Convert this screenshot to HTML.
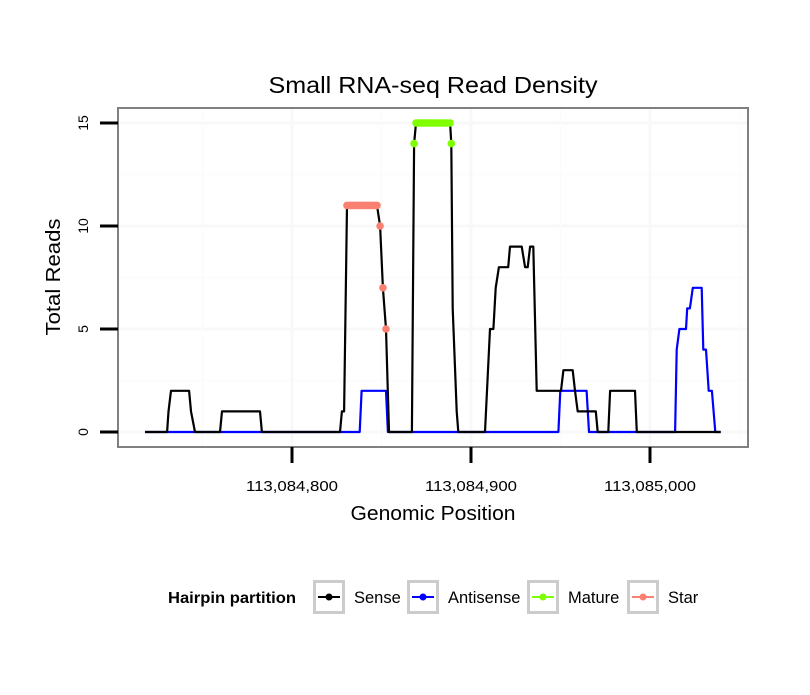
<!DOCTYPE html>
<html><head><meta charset="utf-8"><style>
body{margin:0;background:#fff}
svg text{font-family:"Liberation Sans",sans-serif}
</style></head><body>
<svg id="chart" width="810" height="690" xmlns="http://www.w3.org/2000/svg">
<rect x="0" y="0" width="810" height="690" fill="#fff"/>
<text x="433" y="93" font-size="23" text-anchor="middle" textLength="329" lengthAdjust="spacingAndGlyphs">Small RNA-seq Read Density</text>
<g id="grid"></g>
<g id="series"></g>
<rect x="118" y="108" width="630" height="339" fill="none" stroke="#808080" stroke-width="2"/>
<g id="axes"></g>
<text x="433" y="520" font-size="20" text-anchor="middle" textLength="165" lengthAdjust="spacingAndGlyphs">Genomic Position</text>
<text transform="translate(60,277) rotate(-90)" font-size="20" text-anchor="middle" textLength="117" lengthAdjust="spacingAndGlyphs">Total Reads</text>
<g>
<text x="168" y="603" font-size="15.5" font-weight="bold" textLength="128" lengthAdjust="spacingAndGlyphs">Hairpin partition</text>
<g id="legend"></g>
</g>
</svg>
<script>
const BASE = 113084000;
const senseX = [717.9,730.2,731,732.4,742.5,743.6,745.8,759.8,760.9,782.1,783.2,826.8,827.9,829.1,830.7,847.5,849.2,850.8,852.5,854.2,867,868.2,869.3,888.3,889,889.8,892,892.9,907.8,910.6,912.5,913.8,915.6,920.8,921.8,928.3,930.2,931.7,933,934.8,936.7,950.3,951.6,956.8,958.1,959.6,969.7,970.8,976.7,977.7,991.6,992.6,1039.5];
const senseY = [0,0,1,2,2,1,0,0,1,1,0,0,1,1,11,11,10,7,5,0,0,14,15,15,14,6,1,0,0,5,5,7,8,8,9,9,8,8,9,9,2,2,3,3,2,1,1,0,0,2,2,0,0];
const antiX = [717.9,837.8,838.9,852.5,853.6,948.8,949.9,964.6,965.9,1014,1014.9,1016.4,1020.1,1020.8,1022.3,1023.9,1028.9,1029.8,1031.3,1032.8,1034.6,1036.5,1039.5];
const antiY = [0,0,2,2,0,0,2,2,0,0,4,5,5,6,6,7,7,4,4,2,2,0,0];
const starX = [830.7,832,833,834,835,836,837,838,839,840,841,842,843,844,845,846,847.5,849.2,850.8,852.5];
const starY = [11,11,11,11,11,11,11,11,11,11,11,11,11,11,11,11,11,10,7,5];
const matureX = [868.2,869.3,870,871,872,873,874,875,876,877,878,879,880,881,882,883,884,885,886,887,888.3,889];
const matureY = [14,15,15,15,15,15,15,15,15,15,15,15,15,15,15,15,15,15,15,15,15,14];
const xTicks = [113084800,113084900,113085000];
const xTickLabels = ["113,084,800","113,084,900","113,085,000"];
const yTicks = [0,5,10,15];
const legendNames = ["Sense","Antisense","Mature","Star"];
const legendColors = ["#000000","#0000ff","#7fff00","#fa8072"];

const NS="http://www.w3.org/2000/svg";
function xs(v){return 292+(v-113084800)*1.79;}
function ys(v){return 432-v*20.6;}
function mk(tag,attrs,parent){const e=document.createElementNS(NS,tag);for(const k in attrs)e.setAttribute(k,attrs[k]);parent.appendChild(e);return e;}
const grid=document.getElementById('grid'),series=document.getElementById('series'),axes=document.getElementById('axes'),legend=document.getElementById('legend');
[2.5,7.5,12.5].forEach(v=>{const l=mk('line',{x1:118,x2:748,y1:ys(v),y2:ys(v),stroke:'#fbfbfb','stroke-width':1.5},grid);

});
yTicks.forEach(v=>{const l=mk('line',{x1:118,x2:748,y1:ys(v),y2:ys(v),stroke:'#f8f8f8','stroke-width':3},grid);

});
[113084750,113084850,113084950,113085050].forEach(v=>{const l=mk('line',{x1:xs(v),x2:xs(v),y1:108,y2:447,stroke:'#fbfbfb','stroke-width':1.5},grid);

});
xTicks.forEach(v=>{const l=mk('line',{x1:xs(v),x2:xs(v),y1:108,y2:447,stroke:'#f8f8f8','stroke-width':3},grid);

});
function line(X,Y,c,name){const p=X.map((x,i)=>xs(BASE+x).toFixed(1)+','+ys(Y[i]).toFixed(1)).join(' ');
const e=mk('polyline',{points:p,fill:'none',stroke:c,'stroke-width':2.2,'stroke-linejoin':'round'},series);

}
line(antiX,antiY,'#0000ff','antisense-line');
line(senseX,senseY,'#000000','sense-line');
function pts(X,Y,c,name){X.forEach((x,i)=>{const e=mk('circle',{cx:xs(BASE+x),cy:ys(Y[i]),r:3.8,fill:c},series);

});}
pts(starX,starY,'#fa8072','star-point');
pts(matureX,matureY,'#7fff00','mature-point');
yTicks.forEach(v=>{const t=mk('line',{x1:100,x2:118,y1:ys(v),y2:ys(v),stroke:'#000','stroke-width':3},axes);


const tx=mk('text',{transform:`translate(88,${ys(v)}) rotate(-90)`,'font-size':14,'text-anchor':'middle'},axes);tx.textContent=v;

});
xTicks.forEach((v,i)=>{const t=mk('line',{x1:xs(v),x2:xs(v),y1:447,y2:463,stroke:'#000','stroke-width':3},axes);


const tx=mk('text',{x:xs(v),y:491,'font-size':15,'text-anchor':'middle',textLength:92,lengthAdjust:'spacingAndGlyphs'},axes);tx.textContent=xTickLabels[i];

});
const lx=[313,407,527,627];
legendNames.forEach((n,i)=>{const g=mk('g',{},legend);


mk('rect',{x:lx[i]+1.5,y:581.5,width:29,height:31,fill:'#fff',stroke:'#cccccc','stroke-width':3},g);
mk('line',{x1:lx[i]+5,x2:lx[i]+27,y1:597,y2:597,stroke:legendColors[i],'stroke-width':2},g);
mk('circle',{cx:lx[i]+16,cy:597,r:3.5,fill:legendColors[i]},g);
const t=mk('text',{x:lx[i]+41,y:603,'font-size':16.5},g);t.textContent=n;});
</script>
</body></html>
